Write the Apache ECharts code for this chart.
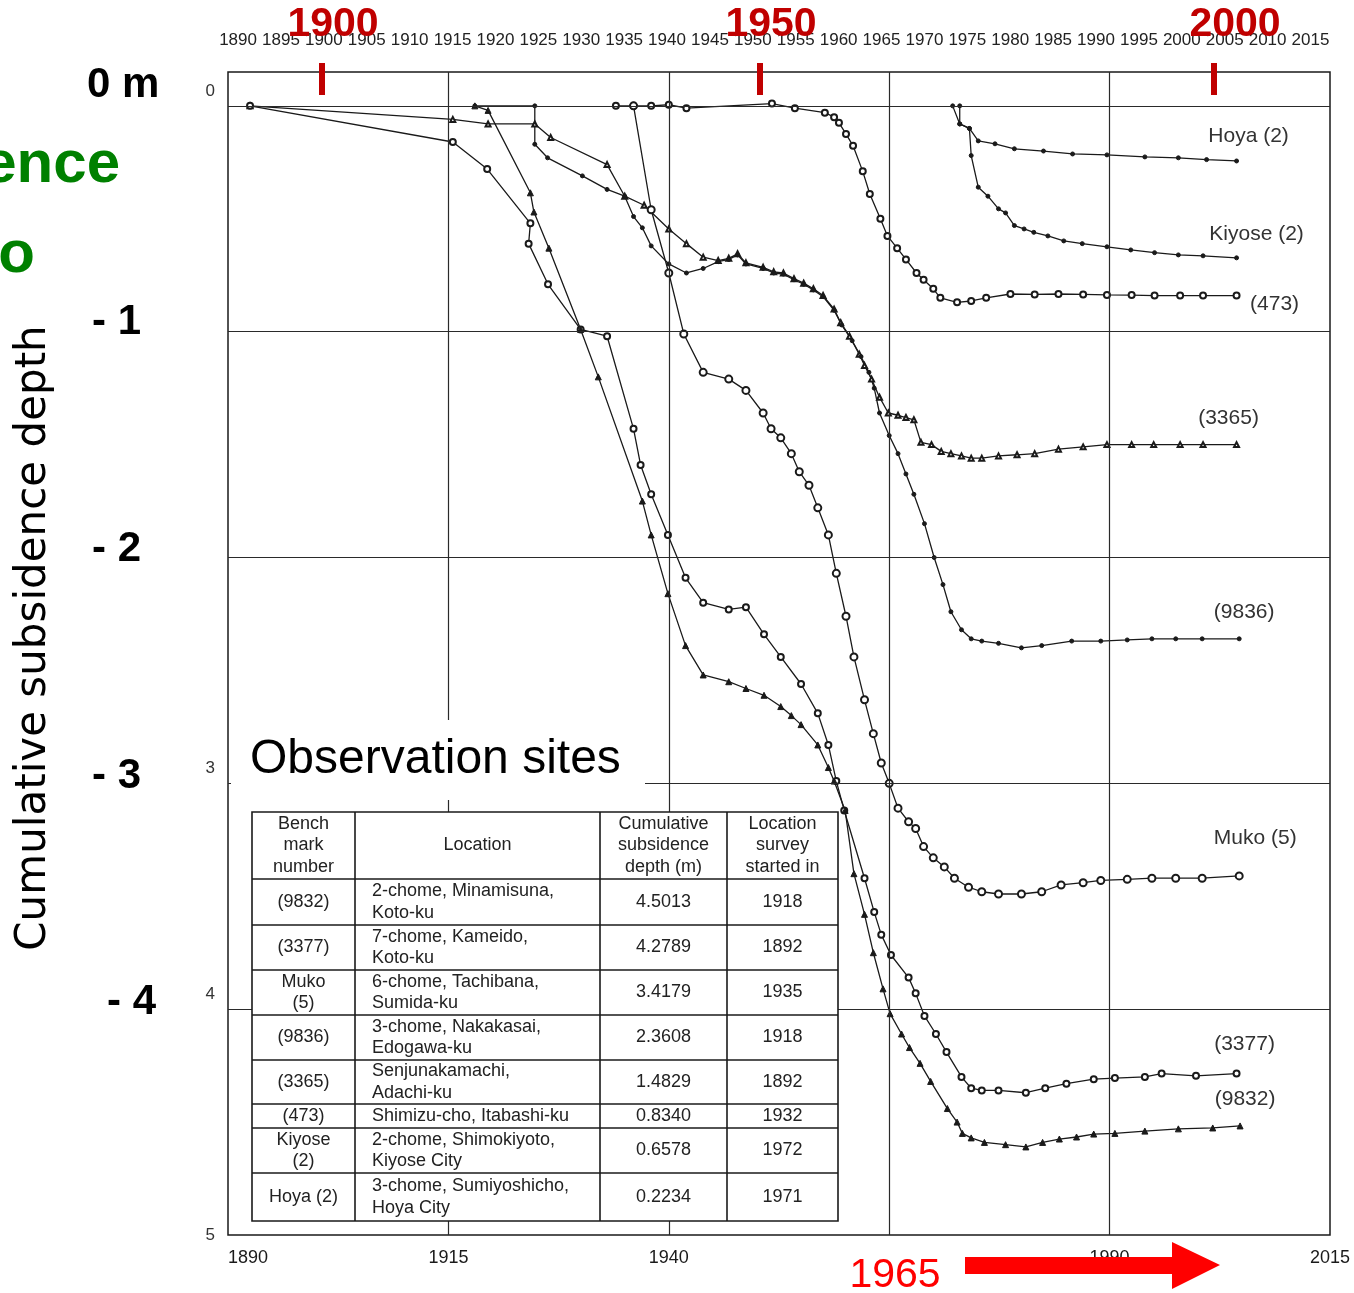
<!DOCTYPE html>
<html>
<head>
<meta charset="utf-8">
<title>Cumulative subsidence depth</title>
<script src="https://cdn.jsdelivr.net/npm/echarts@6/dist/echarts.min.js"></script>
<style>
  html, body { margin: 0; padding: 0; background: #fff; }
  #chart { width: 1354px; height: 1293px; }
</style>
</head>
<body>
<div id="chart"></div>
<script>
// values: [year, cumulative subsidence depth (m)]
const hoya = [[1972.2,0],[1973,0.08],[1974.1,0.10],[1975.1,0.155],[1977,0.168],[1979.2,0.19],[1982.5,0.20],[1985.8,0.213],[1989.7,0.217],[1994,0.226],[1997.8,0.23],[2001,0.238],[2004.4,0.244]];
const kiyose = [[1973,0],[1973,0.08],[1974.1,0.10],[1974.3,0.22],[1975.1,0.36],[1976.2,0.40],[1977.4,0.456],[1978.2,0.474],[1979.2,0.53],[1980.3,0.545],[1981.4,0.56],[1983,0.576],[1984.8,0.598],[1986.9,0.61],[1989.7,0.624],[1992.4,0.638],[1995.1,0.65],[1997.8,0.66],[2000.6,0.664],[2004.4,0.673]];
const bm473 = [[1934,0],[1936,0],[1938,0],[1940,-0.005],[1942,0.01],[1951.7,-0.01],[1954.3,0.01],[1957.7,0.03],[1958.75,0.05],[1959.3,0.075],[1960.1,0.124],[1960.9,0.177],[1962,0.29],[1962.8,0.39],[1964,0.50],[1964.8,0.576],[1965.9,0.63],[1966.9,0.68],[1968.1,0.74],[1968.9,0.77],[1970,0.81],[1970.8,0.85],[1972.7,0.87],[1974.3,0.864],[1976,0.85],[1978.75,0.833],[1981.5,0.835],[1984.2,0.833],[1987,0.835],[1989.7,0.837],[1992.5,0.838],[1995.1,0.84],[1998,0.84],[2000.6,0.84],[2004.4,0.84]];
const bm3365 = [[1892.5,0],[1915.5,0.06],[1919.5,0.08],[1924.8,0.08],[1926.6,0.14],[1933,0.26],[1935,0.40],[1937.2,0.44],[1940,0.545],[1942,0.61],[1943.9,0.67],[1945.6,0.685],[1946.8,0.675],[1947.8,0.655],[1948.75,0.695],[1950.7,0.715],[1951.9,0.735],[1953,0.74],[1954.2,0.765],[1955.3,0.785],[1956.4,0.81],[1957.5,0.84],[1958.75,0.90],[1959.5,0.96],[1960.5,1.02],[1961.6,1.10],[1962.2,1.15],[1963,1.21],[1963.9,1.29],[1964.9,1.36],[1966,1.37],[1966.9,1.38],[1967.8,1.39],[1968.6,1.49],[1969.8,1.50],[1970.9,1.53],[1972,1.54],[1973.2,1.55],[1974.3,1.56],[1975.5,1.56],[1977.4,1.55],[1979.5,1.545],[1981.5,1.54],[1984.2,1.52],[1987,1.51],[1989.7,1.50],[1992.5,1.50],[1995,1.50],[1998,1.50],[2000.6,1.50],[2004.4,1.50]];
const bm9836 = [[1918,0],[1924.8,0],[1924.8,0.17],[1926.25,0.23],[1930.2,0.31],[1933,0.37],[1935,0.40],[1936,0.49],[1937,0.54],[1938,0.62],[1940,0.70],[1942,0.74],[1943.9,0.72],[1945.6,0.69],[1946.8,0.68],[1947.8,0.66],[1948.75,0.70],[1950.7,0.72],[1951.9,0.74],[1953,0.745],[1954.2,0.77],[1955.3,0.79],[1956.4,0.815],[1957.5,0.845],[1958.75,0.905],[1959.6,0.97],[1960.8,1.04],[1961.8,1.11],[1962.7,1.18],[1963.3,1.25],[1963.9,1.36],[1965,1.46],[1966,1.54],[1966.9,1.63],[1967.8,1.72],[1969,1.85],[1970.1,2.0],[1971.1,2.12],[1972,2.24],[1973.2,2.32],[1974.3,2.36],[1975.5,2.37],[1977.4,2.38],[1980,2.40],[1982.3,2.39],[1985.7,2.37],[1989,2.37],[1992,2.365],[1994.8,2.36],[1997.5,2.36],[2000.5,2.36],[2004.7,2.36]];
const muko = [[1936,0],[1938,0.46],[1940,0.74],[1941.7,1.01],[1943.9,1.18],[1946.8,1.21],[1948.75,1.26],[1950.7,1.36],[1951.6,1.43],[1952.7,1.47],[1953.9,1.54],[1954.8,1.62],[1955.9,1.68],[1956.9,1.78],[1958.1,1.90],[1959,2.07],[1960.1,2.26],[1961,2.44],[1962.2,2.63],[1963.2,2.78],[1964.1,2.91],[1965,3.0],[1966,3.11],[1967.2,3.17],[1968,3.2],[1968.9,3.28],[1970,3.33],[1971.25,3.37],[1972.4,3.42],[1974,3.46],[1975.5,3.48],[1977.4,3.49],[1980,3.49],[1982.3,3.48],[1984.5,3.45],[1987,3.44],[1989,3.43],[1992,3.425],[1994.8,3.42],[1997.5,3.42],[2000.5,3.42],[2004.7,3.41]];
const bm3377 = [[1892.5,0],[1915.5,0.16],[1919.4,0.28],[1924.3,0.52],[1924.1,0.61],[1926.3,0.79],[1930,0.99],[1933,1.02],[1936,1.43],[1936.8,1.59],[1938,1.72],[1939.9,1.90],[1941.9,2.09],[1943.9,2.2],[1946.8,2.23],[1948.75,2.22],[1950.8,2.34],[1952.7,2.44],[1955,2.56],[1956.9,2.69],[1958.1,2.83],[1959,2.99],[1959.9,3.12],[1962.2,3.42],[1963.3,3.57],[1964.1,3.67],[1965.2,3.76],[1967.2,3.86],[1968,3.93],[1969,4.03],[1970.3,4.11],[1971.5,4.19],[1973.2,4.30],[1974.3,4.35],[1975.5,4.36],[1977.4,4.36],[1980.5,4.37],[1982.7,4.35],[1985.1,4.33],[1988.2,4.31],[1990.6,4.305],[1994,4.30],[1995.9,4.285],[1999.8,4.295],[2004.4,4.285]];
const bm9832 = [[1918,0],[1919.5,0.02],[1924.3,0.385],[1924.7,0.47],[1926.4,0.63],[1930,0.99],[1932,1.2],[1937,1.75],[1938,1.9],[1939.9,2.16],[1941.9,2.39],[1943.9,2.52],[1946.8,2.55],[1948.75,2.58],[1950.8,2.61],[1952.7,2.66],[1953.9,2.70],[1955,2.74],[1956.9,2.83],[1958.1,2.93],[1958.75,2.99],[1960,3.12],[1961,3.40],[1962.2,3.58],[1963.2,3.75],[1964.3,3.91],[1965.1,4.02],[1966.4,4.11],[1967.3,4.17],[1968.5,4.24],[1969.7,4.32],[1971.6,4.44],[1972.7,4.50],[1973.3,4.55],[1974.3,4.57],[1975.8,4.59],[1978.2,4.60],[1980.5,4.61],[1982.4,4.59],[1984.3,4.575],[1986.25,4.566],[1988.2,4.553],[1990.6,4.55],[1994,4.54],[1997.8,4.53],[2001.7,4.526],[2004.8,4.517]];

const topTickYears = [1890,1895,1900,1905,1910,1915,1920,1925,1930,1935,1940,1945,1950,1955,1960,1965,1970,1975,1980,1985,1990,1995,2000,2005,2010,2015];
const bottomTickYears = [1890,1915,1940,1965,1990,2015];
const depthTicks = [0,3,4,5];
const gridYears = [1915,1940,1965,1990];
const gridDepths = [0,1,2,3,4];
const markedYears = ['1900','1950','2000'];

const tableHeader = ['Bench\nmark\nnumber', 'Location', 'Cumulative\nsubsidence\ndepth (m)', 'Location\nsurvey\nstarted in'];
const tableRows = [
  ['(9832)', '2-chome, Minamisuna,\nKoto-ku', '4.5013', '1918'],
  ['(3377)', '7-chome, Kameido,\nKoto-ku', '4.2789', '1892'],
  ['Muko\n(5)', '6-chome, Tachibana,\nSumida-ku', '3.4179', '1935'],
  ['(9836)', '3-chome, Nakakasai,\nEdogawa-ku', '2.3608', '1918'],
  ['(3365)', 'Senjunakamachi,\nAdachi-ku', '1.4829', '1892'],
  ['(473)', 'Shimizu-cho, Itabashi-ku', '0.8340', '1932'],
  ['Kiyose\n(2)', '2-chome, Shimokiyoto,\nKiyose City', '0.6578', '1972'],
  ['Hoya (2)', '3-chome, Sumiyoshicho,\nHoya City', '0.2234', '1971']
];

const INK = '#1a1a1a';
const FONT = 'Liberation Sans, Arial, sans-serif';

const lines = [
  { name: 'Hoya (2)',   data: hoya,   symbol: 'circle',        size: 4, label: [12, -25] },
  { name: 'Kiyose (2)', data: kiyose, symbol: 'circle',        size: 4, label: [20, -24] },
  { name: '(473)',      data: bm473,  symbol: 'emptyCircle',   size: 6, label: [38, 9] },
  { name: '(3365)',     data: bm3365, symbol: 'emptyTriangle', size: 5, label: [-8, -26] },
  { name: '(9836)',     data: bm9836, symbol: 'circle',        size: 4, label: [5, -27] },
  { name: 'Muko (5)',   data: muko,   symbol: 'emptyCircle',   size: 7, label: [16, -38] },
  { name: '(3377)',     data: bm3377, symbol: 'emptyCircle',   size: 6, label: [8, -29] },
  { name: '(9832)',     data: bm9832, symbol: 'triangle',      size: 6, label: [5, -27] }
];

const series = lines.map(l => ({
  type: 'line',
  name: l.name,
  data: l.data,
  symbol: l.symbol,
  symbolSize: l.size,
  lineStyle: { color: INK, width: 1.3 },
  itemStyle: { color: INK, borderColor: INK, borderWidth: 1 },
  endLabel: {
    show: true, formatter: l.name, distance: 0, offset: l.label,
    align: 'center', verticalAlign: 'middle',
    color: '#333', fontSize: 21, fontFamily: FONT
  },
  z: 3
}));

// grid lines of the original paper chart
series.push({
  type: 'line', data: [], silent: true, z: 1,
  markLine: {
    silent: true, symbol: ['none', 'none'], label: { show: false },
    lineStyle: { color: '#2a2a2a', width: 1.2, type: 'solid' },
    data: gridYears.map(y => ({ xAxis: y })).concat(gridDepths.map(d => ({ yAxis: d })))
  }
});

// overlays: table, captions, red markers
const g = [];
function txt(text, x, y, font, fill, align, extra) {
  g.push(Object.assign({
    type: 'text', z: 120,
    style: { text: text, x: x, y: y, font: font, fill: fill,
      align: align || 'center', textAlign: align || 'center',
      verticalAlign: 'middle', textVerticalAlign: 'middle', lineHeight: 21.5 }
  }, extra || {}));
}
function box(x, y, w, h, fill, stroke, lw) {
  g.push({ type: 'rect', z: 110, shape: { x: x, y: y, width: w, height: h },
    style: { fill: fill, stroke: stroke || null, lineWidth: lw || 0 } });
}
function seg(x1, y1, x2, y2) {
  g.push({ type: 'line', z: 115, shape: { x1: x1, y1: y1, x2: x2, y2: y2 },
    style: { stroke: INK, lineWidth: 1.6 } });
}

// white patch under the "Observation sites" caption
box(231, 720, 414, 80, '#fff');
txt('Observation sites', 250, 760, '48px ' + FONT, '#000', 'left');

const colX = [252, 355, 600, 727, 838];
const rowY = [812, 879, 925, 970, 1015, 1060, 1104, 1128, 1173, 1221];
box(colX[0], rowY[0], colX[4] - colX[0], rowY[rowY.length - 1] - rowY[0], '#fff', INK, 1.6);
for (let i = 1; i < colX.length - 1; i++) seg(colX[i], rowY[0], colX[i], rowY[rowY.length - 1]);
for (let j = 1; j < rowY.length - 1; j++) seg(colX[0], rowY[j], colX[4], rowY[j]);
[tableHeader].concat(tableRows).forEach((row, r) => {
  const cy = (rowY[r] + rowY[r + 1]) / 2;
  row.forEach((cell, c) => {
    const left = (c === 1 && r > 0);
    const cx = left ? colX[1] + 17 : (colX[c] + colX[c + 1]) / 2;
    txt(cell, cx, cy, '18px ' + FONT, '#222', left ? 'left' : 'center');
  });
});

// patch and arrow at the bottom
box(827, 1236, 138, 57, '#fff');
txt('1965', 895, 1276, '41px ' + FONT, '#ff0000', 'center');
g.push({ type: 'polygon', z: 120,
  shape: { points: [[965,1257],[1172,1257],[1172,1242],[1220,1265],[1172,1289],[1172,1274],[965,1274]] },
  style: { fill: '#ff0000' } });

// red year markers on the top
const markX = [322, 760, 1214];
const markLabelX = [333, 771, 1235];
markedYears.forEach((yr, i) => {
  box(markX[i] - 3, 63, 6, 32, '#c00000');
  txt(yr, markLabelX[i], 25, 'bold 41px ' + FONT, '#c00000', 'center');
});

// depth captions on the left
txt('0 m', 87, 85, 'bold 42px ' + FONT, '#000', 'left');
txt('- 1', 92, 322, 'bold 42px ' + FONT, '#000', 'left');
txt('- 2', 92, 549, 'bold 42px ' + FONT, '#000', 'left');
txt('- 3', 92, 776, 'bold 42px ' + FONT, '#000', 'left');
txt('- 4', 107, 1002, 'bold 42px ' + FONT, '#000', 'left');

// cut-off title remains
txt('ence', 120, 165, 'bold 60px ' + FONT, '#008000', 'right');
txt('o', 35, 255, 'bold 60px ' + FONT, '#008000', 'right');

txt('Cumulative subsidence depth', 0, 0, '42px DejaVu Sans, sans-serif', '#000', 'center',
  { x: 34, y: 638, rotation: Math.PI / 2 });

const yearLabel = v => String(Math.round(v));

const chart = echarts.init(document.getElementById('chart'));
chart.setOption({
  animation: false,
  backgroundColor: '#fff',
  textStyle: { fontFamily: FONT },
  grid: { left: 228, right: 24, top: 72, bottom: 58, show: true,
    borderColor: INK, borderWidth: 1.5, backgroundColor: 'transparent' },
  xAxis: [
    { type: 'value', min: 1890, max: 2015, position: 'bottom',
      axisLine: { show: false }, axisTick: { show: false }, splitLine: { show: false },
      axisLabel: { customValues: bottomTickYears, formatter: yearLabel, margin: 14, fontSize: 18,
        color: INK, showMinLabel: true, showMaxLabel: true, hideOverlap: false,
        alignMinLabel: 'left', padding: [0, 0, 0, 0] } },
    { type: 'value', min: 1888.83, max: 2017.27, position: 'top',
      axisLine: { show: false }, axisTick: { show: false }, splitLine: { show: false },
      axisLabel: { customValues: topTickYears, formatter: yearLabel, margin: 23, fontSize: 17,
        color: '#222', showMinLabel: true, showMaxLabel: true, hideOverlap: false } }
  ],
  yAxis: {
    type: 'value', inverse: true, min: -0.15, max: 5,
    axisLine: { show: false }, axisTick: { show: false }, splitLine: { show: false },
    axisLabel: {
      customValues: depthTicks, margin: 13,
      formatter: v => v === 5 ? '{b|5}' : '{a|' + v + '}',
      rich: { a: { fontSize: 17, color: '#333', padding: [0, 0, 30, 0] },
              b: { fontSize: 17, color: '#333' } }
    }
  },
  series: series,
  graphic: { elements: g }
});
</script>
</body>
</html>
